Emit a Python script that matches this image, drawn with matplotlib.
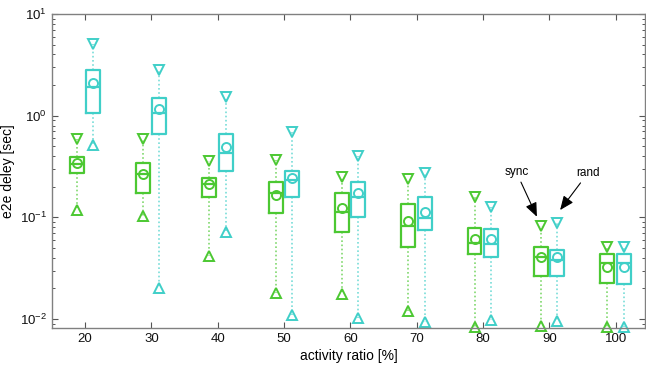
import matplotlib
matplotlib.use('Agg')
import matplotlib.pyplot as plt
from matplotlib.ticker import LogLocator, NullFormatter, FixedLocator

plt.rcParams['font.family'] = ['Liberation Sans', 'DejaVu Sans']
plt.rcParams['mathtext.fontset'] = 'custom'
plt.rcParams['mathtext.rm'] = 'Liberation Sans'
plt.rcParams['mathtext.it'] = 'Liberation Sans'
plt.rcParams['mathtext.bf'] = 'Liberation Sans'

ratios = [20, 30, 40, 50, 60, 70, 80, 90, 100]

sync_max = [0.585, 0.585, 0.361, 0.366, 0.248, 0.238, 0.157, 0.0828, 0.0514]
sync_q3 = [0.395, 0.345, 0.245, 0.224, 0.172, 0.134, 0.0791, 0.0507, 0.0436]
sync_med = [0.333, 0.267, 0.211, 0.172, 0.114, 0.0822, 0.0563, 0.041, 0.0353]
sync_mean = [0.340, 0.267, 0.211, 0.166, 0.123, 0.0927, 0.0612, 0.041, 0.0327]
sync_q1 = [0.275, 0.175, 0.158, 0.111, 0.0713, 0.0507, 0.0433, 0.0265, 0.0225]
sync_min = [0.118, 0.103, 0.042, 0.0179, 0.0176, 0.0121, 0.0084, 0.0086, 0.0084]

rand_max = [5.07, 2.81, 1.52, 0.686, 0.404, 0.271, 0.1255, 0.0886, 0.0514]
rand_q3 = [2.81, 1.48, 0.66, 0.286, 0.221, 0.157, 0.0763, 0.0477, 0.0436]
rand_med = [1.90, 1.055, 0.432, 0.233, 0.157, 0.0992, 0.0547, 0.038, 0.0353]
rand_mean = [2.08, 1.16, 0.495, 0.242, 0.172, 0.1137, 0.0612, 0.0404, 0.0327]
rand_q1 = [1.07, 0.66, 0.288, 0.157, 0.1015, 0.0751, 0.0404, 0.0265, 0.0221]
rand_min = [0.515, 0.0203, 0.0723, 0.0109, 0.0102, 0.0094, 0.0098, 0.0096, 0.0084]

sync_color = '#4cc832'
rand_color = '#40cfc8'

fig = plt.figure(figsize=(6.46, 3.71), dpi=100)
ax = fig.add_axes([52/646, 1-328/371, (645-52)/646, (328-14)/371])


def draw(series, offset, color):
    mx, q3, med, mean, q1, mn = series
    stats = []
    for i in range(len(ratios)):
        stats.append(dict(whislo=mn[i], q1=q1[i], med=med[i], q3=q3[i],
                          whishi=mx[i], mean=mean[i], fliers=[]))
    pos = [r + offset for r in ratios]
    ax.bxp(stats, positions=pos, widths=2.1, showmeans=True, showcaps=False,
           showfliers=False, manage_ticks=False,
           boxprops=dict(color=color, linewidth=1.6),
           medianprops=dict(color=color, linewidth=1.6),
           whiskerprops=dict(color=color, linewidth=1.2, linestyle=(0, (1, 1.5)), alpha=0.7),
           meanprops=dict(marker='o', markerfacecolor='none', markeredgecolor=color,
                          markersize=6.5, markeredgewidth=1.4))
    ax.plot(pos, mx, linestyle='none', marker='v', markersize=7, clip_on=False,
            markerfacecolor='none', markeredgecolor=color, markeredgewidth=1.4)
    ax.plot(pos, mn, linestyle='none', marker='^', markersize=7, clip_on=False,
            markerfacecolor='none', markeredgecolor=color, markeredgewidth=1.4)


draw((sync_max, sync_q3, sync_med, sync_mean, sync_q1, sync_min), -1.3, sync_color)
draw((rand_max, rand_q3, rand_med, rand_mean, rand_q1, rand_min), 1.2, rand_color)

ax.set_yscale('log')
ax.set_xlim(15, 104.4)
ax.set_ylim(10 ** -2.088, 10)
ax.xaxis.set_major_locator(FixedLocator(ratios))
ax.set_xticklabels([str(r) for r in ratios])
ax.yaxis.set_major_locator(LogLocator(base=10, numticks=10))
ax.yaxis.set_minor_locator(LogLocator(base=10, subs=range(2, 10), numticks=20))
ax.yaxis.set_minor_formatter(NullFormatter())

for s in ax.spines.values():
    s.set_color('#808080')
    s.set_linewidth(1.0)
ax.tick_params(which='both', direction='in', top=True, right=True,
               color='#555555', labelsize=9.5, labelcolor='#111111')
ax.tick_params(which='major', length=4.5, width=0.8)
ax.tick_params(which='minor', length=2.5, width=0.7)

ax.set_xlabel('activity ratio [%]', fontsize=10, labelpad=3)
ax.set_ylabel('e2e deley [sec]', fontsize=10, labelpad=4)

arrow = dict(arrowstyle='-|>,head_length=1.0,head_width=0.42', color='black',
             linewidth=0.8, shrinkA=1, shrinkB=0)
ax.annotate('sync', xy=(88.1, 0.1015), xytext=(85.0, 0.279), fontsize=8.5,
            ha='center', va='center', arrowprops=arrow)
ax.annotate('rand', xy=(91.6, 0.118), xytext=(95.8, 0.273), fontsize=8.5,
            ha='center', va='center', arrowprops=arrow)

fig.savefig('out.png', dpi=100)
